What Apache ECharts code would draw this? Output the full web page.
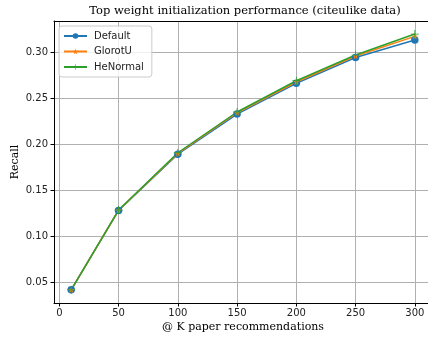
<!DOCTYPE html>
<html><head><meta charset="utf-8">
<script src="https://cdn.jsdelivr.net/npm/echarts@6/dist/echarts.min.js"></script>
<style>html,body{margin:0;padding:0;background:#fff}#c{width:428px;height:339px}</style>
</head><body><div id="c"></div>
<script>
const kValues = [10, 50, 100, 150, 200, 250, 300];
const defaultRecall = [0.0415, 0.1278, 0.1890, 0.2325, 0.2660, 0.2940, 0.3130];
const glorotURecall = [0.0415, 0.1280, 0.1898, 0.2340, 0.2674, 0.2957, 0.3170];
const heNormalRecall = [0.0415, 0.1282, 0.1905, 0.2348, 0.2688, 0.2967, 0.3195];
const xTicks = [0, 50, 100, 150, 200, 250, 300];
const yTicks = [0.05, 0.10, 0.15, 0.20, 0.25, 0.30];

const starPath = 'path://M0,-10L2.35,-3.24L9.51,-3.09L3.8,1.24L5.88,8.09L0,4L-5.88,8.09L-3.8,1.24L-9.51,-3.09L-2.35,-3.24Z';
const plusPath = 'path://M-1,-10L1,-10L1,-1L10,-1L10,1L1,1L1,10L-1,10L-1,1L-10,1L-10,-1L-1,-1Z';

const chart = echarts.init(document.getElementById('c'), null, {renderer: 'canvas'});
const tickFont = {fontFamily: 'DejaVu Sans', fontSize: 10, color: '#222'};
function mk(name, vals, color, symbol, size) {
  return {
    name, type: 'line', data: kValues.map((k, i) => [k, vals[i]]),
    symbol, symbolSize: size, showSymbol: true,
    lineStyle: {color, width: 1.5}, itemStyle: {color},
    animation: false, z: 3
  };
}
chart.setOption({
  animation: false,
  title: {text: 'Top weight initialization performance (citeulike data)', left: 240, textAlign: 'center', top: 0,
    textStyle: {fontFamily: 'DejaVu Serif', fontSize: 11.5, fontWeight: 'normal', color: '#000'}},
  grid: {left: 54, top: 21, width: 378, height: 282, outerBoundsMode: 'none', containLabel: false},
  legend: {
    orient: 'vertical', left: 59, top: 26, padding: [4, 8, 4, 4],
    backgroundColor: 'rgba(255,255,255,0.8)', borderColor: '#cccccc', borderWidth: 1, borderRadius: 3,
    itemWidth: 23, itemHeight: 7, itemGap: 3.5,
    textStyle: {fontFamily: 'DejaVu Sans', fontSize: 10, color: '#222', padding: [0, 0, 0, 2], lineHeight: 12},
    data: ['Default', 'GlorotU', 'HeNormal']
  },
  xAxis: [{
    type: 'value', min: -4.5, max: 314.5, interval: 50,
    name: '@ K paper recommendations', nameLocation: 'middle', nameGap: 19, nameMoveOverlap: false,
    nameTextStyle: {fontFamily: 'DejaVu Serif', fontSize: 11, color: '#000'},
    axisLine: {show: true, onZero: false, lineStyle: {color: '#000', width: 1}},
    axisTick: {show: true, length: 3.5, lineStyle: {color: '#000'}, customValues: xTicks},
    axisLabel: Object.assign({margin: 5, customValues: xTicks}, tickFont),
    splitLine: {show: true, lineStyle: {color: '#b0b0b0', width: 1}}
  }, {
    type: 'value', position: 'top', min: -4.5, max: 314.5,
    axisLine: {show: true, onZero: false, lineStyle: {color: '#000', width: 1}},
    axisTick: {show: false}, axisLabel: {show: false}, splitLine: {show: false}
  }],
  yAxis: {
    type: 'value', min: 0.0272, max: 0.3337,
    name: 'Recall', nameLocation: 'middle', nameGap: 33, nameMoveOverlap: false,
    nameTextStyle: {fontFamily: 'DejaVu Serif', fontSize: 11, color: '#000'},
    axisLine: {show: true, onZero: false, lineStyle: {color: '#000', width: 1}},
    axisTick: {show: true, length: 3.5, lineStyle: {color: '#000'}, customValues: yTicks},
    axisLabel: Object.assign({margin: 6, customValues: yTicks, formatter: v => v.toFixed(2)}, tickFont),
    splitLine: {show: true, lineStyle: {color: '#b0b0b0', width: 1}}
  },
  series: [
    mk('Default', defaultRecall, '#1f77b4', 'circle', 7.5),
    mk('GlorotU', glorotURecall, '#ff7f0e', starPath, 6),
    mk('HeNormal', heNormalRecall, '#2ca02c', plusPath, 8)
  ]
});
</script></body></html>
